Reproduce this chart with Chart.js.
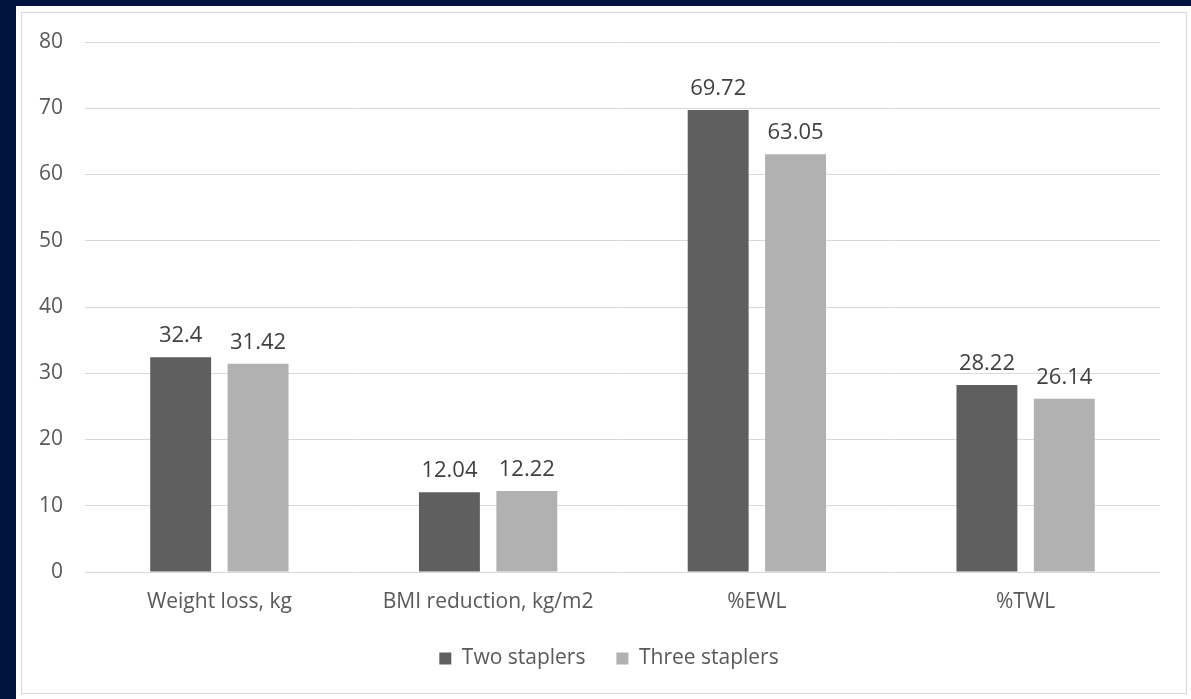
<!DOCTYPE html>
<html>
<head>
<meta charset="utf-8">
<script src="https://cdn.jsdelivr.net/npm/chart.js@4/dist/chart.umd.min.js"></script>
<style>
  html, body { margin: 0; padding: 0; }
  body { width: 1191px; height: 699px; background: #00143f; position: relative; overflow: hidden; }
  #sheet { position: absolute; left: 16px; top: 6px; width: 1175px; height: 693px; background: #ffffff; }
  #frame { position: absolute; left: 21px; top: 12px; width: 1164px; height: 680px; border: 1px solid #d9d9d9; background: #ffffff; }
  #frame canvas { display: block; }
</style>
</head>
<body>
<div id="sheet"></div>
<div id="frame"><canvas id="chart" width="1164" height="680"></canvas></div>
<script>
const categories = ['Weight loss, kg', 'BMI reduction, kg/m2', '%EWL', '%TWL'];
const twoStaplers = [32.4, 12.04, 69.72, 28.22];
const threeStaplers = [31.42, 12.22, 63.05, 26.14];
const seriesNames = ['Two staplers', 'Three staplers'];
const yTicks = [0, 10, 20, 30, 40, 50, 60, 70, 80];

const FONT = '"Open Sans", "Liberation Sans", sans-serif';

// Prints each bar's value just above it
const valueLabels = {
  id: 'valueLabels',
  afterDatasetsDraw(chart) {
    const ctx = chart.ctx;
    ctx.save();
    ctx.font = '22px ' + FONT;
    ctx.fillStyle = '#404040';
    ctx.textAlign = 'center';
    ctx.textBaseline = 'alphabetic';
    chart.data.datasets.forEach((ds, i) => {
      chart.getDatasetMeta(i).data.forEach((bar, j) => {
        ctx.fillText(String(ds.data[j]), bar.x, bar.y - 15);
      });
    });
    ctx.restore();
  }
};

new Chart(document.getElementById('chart'), {
  type: 'bar',
  data: {
    labels: categories,
    datasets: [
      { label: seriesNames[0], data: twoStaplers, backgroundColor: '#5f5f5f',
        categoryPercentage: 0.576, barPercentage: 0.787 },
      { label: seriesNames[1], data: threeStaplers, backgroundColor: '#b1b1b1',
        categoryPercentage: 0.576, barPercentage: 0.787 }
    ]
  },
  options: {
    responsive: false,
    animation: false,
    layout: { padding: { top: 29, right: 0, bottom: 14, left: 10 } },
    plugins: {
      tooltip: { enabled: false },
      legend: {
        position: 'bottom',
        labels: {
          boxWidth: 12, boxHeight: 12, padding: 31,
          color: '#595959', font: { family: FONT, size: 21 }
        }
      }
    },
    scales: {
      x: {
        afterFit(scale) { scale.height = 45; },
        grid: { display: false, drawTicks: false },
        border: { display: false },
        ticks: { color: '#595959', font: { family: FONT, size: 21 }, padding: 17 }
      },
      y: {
        min: 0, max: 80,
        afterFit(scale) {
          scale.width = 53;
          scale.paddingTop = 0;
          scale.paddingBottom = 0;
        },
        afterBuildTicks(scale) { scale.ticks = yTicks.map(v => ({ value: v })); },
        grid: { color: '#d9d9d9', lineWidth: 1, drawTicks: false },
        border: { display: false },
        ticks: { color: '#595959', font: { family: FONT, size: 21 }, padding: 22 }
      },
      // empty right-hand margin strip beside the plot
      yRight: {
        type: 'linear',
        position: 'right',
        min: 0, max: 80,
        afterFit(scale) {
          scale.width = 26;
          scale.paddingTop = 0;
          scale.paddingBottom = 0;
        },
        grid: { display: false, drawTicks: false },
        border: { display: false },
        ticks: { display: false }
      }
    }
  },
  plugins: [valueLabels]
});
</script>
</body>
</html>
